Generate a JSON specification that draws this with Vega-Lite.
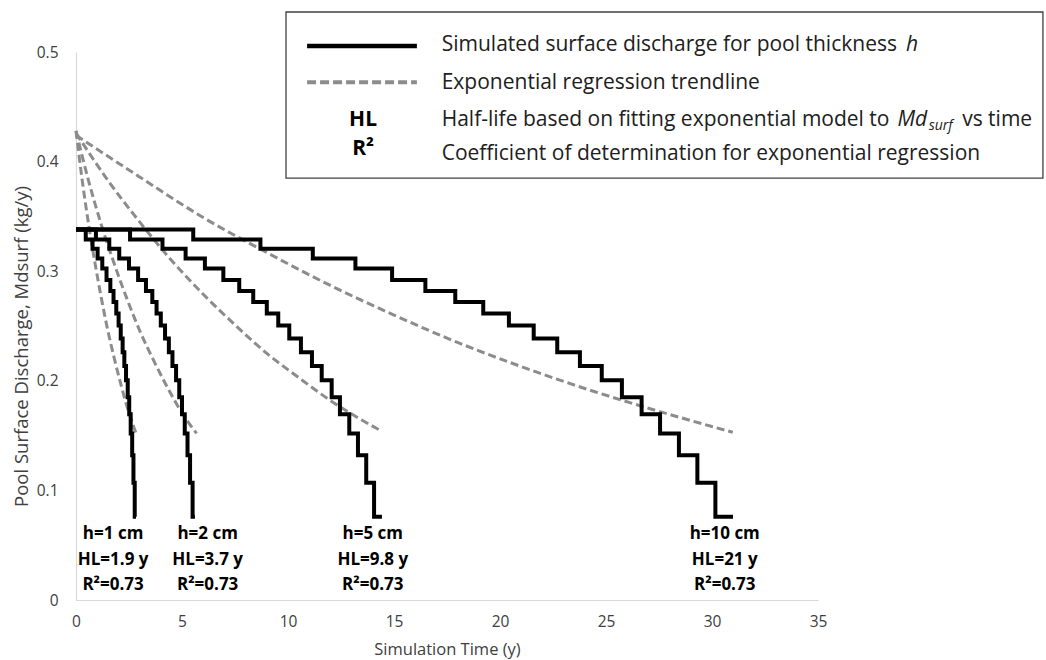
{
  "$schema": "https://vega.github.io/schema/vega-lite/v6.json",
  "width": 742,
  "height": 548,
  "autosize": {"type": "none"},
  "padding": {"left": 76, "top": 52, "right": 228, "bottom": 60},
  "background": "white",
  "config": {
    "font": "Open Sans",
    "view": {"stroke": null},
    "axis": {"grid": false, "ticks": false, "labelFlush": false, "labelOverlap": false, "domainColor": "#d9d9d9", "domainWidth": 1.2, "labelFont": "Open Sans", "labelFontSize": 15.5, "labelColor": "#404040", "titleFont": "Open Sans", "titleFontWeight": "normal", "titleColor": "#404040", "titleFontSize": 16.5}
  },
  "datasets": {
    "steps": [
      {"s": "h1", "t": 0, "v": 0.338}, {"s": "h1", "t": 0.46, "v": 0.329}, {"s": "h1", "t": 0.78, "v": 0.3205}, {"s": "h1", "t": 1.02, "v": 0.3115}, {"s": "h1", "t": 1.24, "v": 0.3025}, {"s": "h1", "t": 1.44, "v": 0.292}, {"s": "h1", "t": 1.62, "v": 0.282}, {"s": "h1", "t": 1.77, "v": 0.272}, {"s": "h1", "t": 1.9, "v": 0.2615}, {"s": "h1", "t": 2.01, "v": 0.2505}, {"s": "h1", "t": 2.11, "v": 0.2385}, {"s": "h1", "t": 2.2, "v": 0.226}, {"s": "h1", "t": 2.28, "v": 0.2135}, {"s": "h1", "t": 2.36, "v": 0.2005}, {"s": "h1", "t": 2.44, "v": 0.185}, {"s": "h1", "t": 2.51, "v": 0.1695}, {"s": "h1", "t": 2.58, "v": 0.152}, {"s": "h1", "t": 2.65, "v": 0.132}, {"s": "h1", "t": 2.71, "v": 0.107}, {"s": "h1", "t": 2.77, "v": 0.076}, {"s": "h1", "t": 2.83, "v": 0.076},
      {"s": "h2", "t": 0, "v": 0.338}, {"s": "h2", "t": 0.94, "v": 0.329}, {"s": "h2", "t": 1.57, "v": 0.3205}, {"s": "h2", "t": 2.04, "v": 0.3115}, {"s": "h2", "t": 2.5, "v": 0.3025}, {"s": "h2", "t": 2.93, "v": 0.292}, {"s": "h2", "t": 3.3, "v": 0.282}, {"s": "h2", "t": 3.6, "v": 0.272}, {"s": "h2", "t": 3.8, "v": 0.2615}, {"s": "h2", "t": 4.0, "v": 0.2505}, {"s": "h2", "t": 4.2, "v": 0.2385}, {"s": "h2", "t": 4.38, "v": 0.226}, {"s": "h2", "t": 4.55, "v": 0.2135}, {"s": "h2", "t": 4.72, "v": 0.2005}, {"s": "h2", "t": 4.87, "v": 0.185}, {"s": "h2", "t": 5.0, "v": 0.1695}, {"s": "h2", "t": 5.13, "v": 0.152}, {"s": "h2", "t": 5.26, "v": 0.132}, {"s": "h2", "t": 5.38, "v": 0.107}, {"s": "h2", "t": 5.5, "v": 0.076}, {"s": "h2", "t": 5.61, "v": 0.076},
      {"s": "h5", "t": 0, "v": 0.338}, {"s": "h5", "t": 2.55, "v": 0.329}, {"s": "h5", "t": 4.08, "v": 0.3205}, {"s": "h5", "t": 5.17, "v": 0.3115}, {"s": "h5", "t": 6.08, "v": 0.3025}, {"s": "h5", "t": 6.95, "v": 0.292}, {"s": "h5", "t": 7.7, "v": 0.282}, {"s": "h5", "t": 8.36, "v": 0.272}, {"s": "h5", "t": 9.0, "v": 0.2615}, {"s": "h5", "t": 9.54, "v": 0.2505}, {"s": "h5", "t": 10.06, "v": 0.2385}, {"s": "h5", "t": 10.61, "v": 0.226}, {"s": "h5", "t": 11.13, "v": 0.2135}, {"s": "h5", "t": 11.59, "v": 0.2005}, {"s": "h5", "t": 12.06, "v": 0.185}, {"s": "h5", "t": 12.45, "v": 0.1695}, {"s": "h5", "t": 12.89, "v": 0.152}, {"s": "h5", "t": 13.3, "v": 0.132}, {"s": "h5", "t": 13.69, "v": 0.107}, {"s": "h5", "t": 14.06, "v": 0.076}, {"s": "h5", "t": 14.43, "v": 0.076},
      {"s": "h10", "t": 0, "v": 0.338}, {"s": "h10", "t": 5.53, "v": 0.329}, {"s": "h10", "t": 8.7, "v": 0.3205}, {"s": "h10", "t": 11.17, "v": 0.3115}, {"s": "h10", "t": 13.18, "v": 0.3025}, {"s": "h10", "t": 14.91, "v": 0.292}, {"s": "h10", "t": 16.48, "v": 0.282}, {"s": "h10", "t": 17.89, "v": 0.272}, {"s": "h10", "t": 19.21, "v": 0.2615}, {"s": "h10", "t": 20.42, "v": 0.2505}, {"s": "h10", "t": 21.59, "v": 0.2385}, {"s": "h10", "t": 22.7, "v": 0.226}, {"s": "h10", "t": 23.77, "v": 0.2135}, {"s": "h10", "t": 24.8, "v": 0.2005}, {"s": "h10", "t": 25.75, "v": 0.185}, {"s": "h10", "t": 26.68, "v": 0.1695}, {"s": "h10", "t": 27.55, "v": 0.152}, {"s": "h10", "t": 28.44, "v": 0.132}, {"s": "h10", "t": 29.31, "v": 0.107}, {"s": "h10", "t": 30.16, "v": 0.076}, {"s": "h10", "t": 30.99, "v": 0.076}
    ],
    "trends": [
      {"s": "h1", "t": 0, "v": 0.428}, {"s": "h1", "t": 0.3, "v": 0.382}, {"s": "h1", "t": 0.6, "v": 0.342}, {"s": "h1", "t": 0.9, "v": 0.307}, {"s": "h1", "t": 1.2, "v": 0.275}, {"s": "h1", "t": 1.5, "v": 0.246}, {"s": "h1", "t": 1.8, "v": 0.221}, {"s": "h1", "t": 2.1, "v": 0.198}, {"s": "h1", "t": 2.4, "v": 0.177}, {"s": "h1", "t": 2.65, "v": 0.162}, {"s": "h1", "t": 2.83, "v": 0.152},
      {"s": "h2", "t": 0, "v": 0.428}, {"s": "h2", "t": 0.6, "v": 0.382}, {"s": "h2", "t": 1.2, "v": 0.342}, {"s": "h2", "t": 1.8, "v": 0.307}, {"s": "h2", "t": 2.4, "v": 0.275}, {"s": "h2", "t": 3.0, "v": 0.246}, {"s": "h2", "t": 3.6, "v": 0.221}, {"s": "h2", "t": 4.2, "v": 0.198}, {"s": "h2", "t": 4.8, "v": 0.177}, {"s": "h2", "t": 5.3, "v": 0.162}, {"s": "h2", "t": 5.69, "v": 0.152},
      {"s": "h5", "t": 0, "v": 0.426}, {"s": "h5", "t": 1.5, "v": 0.383}, {"s": "h5", "t": 3, "v": 0.345}, {"s": "h5", "t": 4.5, "v": 0.31}, {"s": "h5", "t": 6, "v": 0.279}, {"s": "h5", "t": 7.5, "v": 0.251}, {"s": "h5", "t": 9, "v": 0.225}, {"s": "h5", "t": 10.5, "v": 0.203}, {"s": "h5", "t": 12, "v": 0.182}, {"s": "h5", "t": 13.5, "v": 0.164}, {"s": "h5", "t": 14.42, "v": 0.154},
      {"s": "h10", "t": 0, "v": 0.424}, {"s": "h10", "t": 3, "v": 0.386}, {"s": "h10", "t": 6, "v": 0.349}, {"s": "h10", "t": 9, "v": 0.317}, {"s": "h10", "t": 12, "v": 0.287}, {"s": "h10", "t": 15, "v": 0.26}, {"s": "h10", "t": 18, "v": 0.235}, {"s": "h10", "t": 21, "v": 0.213}, {"s": "h10", "t": 24, "v": 0.193}, {"s": "h10", "t": 27, "v": 0.175}, {"s": "h10", "t": 30.98, "v": 0.153}
    ],
    "notes": [
      {"t": 1.75, "v": 0.0602, "label": "h=1 cm"}, {"t": 1.75, "v": 0.0365, "label": "HL=1.9 y"}, {"t": 1.75, "v": 0.0141, "label": "R²=0.73"},
      {"t": 6.21, "v": 0.0602, "label": "h=2 cm"}, {"t": 6.21, "v": 0.0365, "label": "HL=3.7 y"}, {"t": 6.21, "v": 0.0141, "label": "R²=0.73"},
      {"t": 14.0, "v": 0.0602, "label": "h=5 cm"}, {"t": 14.0, "v": 0.0365, "label": "HL=9.8 y"}, {"t": 14.0, "v": 0.0141, "label": "R²=0.73"},
      {"t": 30.6, "v": 0.0602, "label": "h=10 cm"}, {"t": 30.6, "v": 0.0365, "label": "HL=21 y"}, {"t": 30.6, "v": 0.0141, "label": "R²=0.73"}
    ],
    "box": [{"t": 9.906, "t2": 45.61, "v": 0.385, "v2": 0.5365}],
    "keySolid": [{"s": "a", "t": 10.9, "v": 0.5055}, {"s": "a", "t": 16.08, "v": 0.5055}],
    "keyDash": [{"s": "b", "t": 10.9, "v": 0.4724}, {"s": "b", "t": 16.08, "v": 0.4724}],
    "keyText": [{"t": 13.54, "v": 0.438, "label": "HL"}, {"t": 13.54, "v": 0.4115, "label": "R²"}],
    "descText": [
      {"t": 17.25, "v": 0.506, "label": "Simulated surface discharge for pool thickness"},
      {"t": 17.25, "v": 0.4714, "label": "Exponential regression trendline"},
      {"t": 17.25, "v": 0.438, "label": "Half-life based on fitting exponential model to"},
      {"t": 17.25, "v": 0.407, "label": "Coefficient of determination for exponential regression"},
      {"t": 41.8, "v": 0.438, "label": "vs time"}
    ],
    "italicText": [
      {"t": 39.15, "v": 0.506, "label": "h"},
      {"t": 38.75, "v": 0.438, "label": "Md"}
    ],
    "subText": [
      {"t": 40.22, "v": 0.4325, "label": "surf"}
    ]
  },
  "encoding": {
    "x": {"field": "t", "type": "quantitative", "scale": {"domain": [0, 35], "nice": false, "zero": false},
      "axis": {"values": [0, 5, 10, 15, 20, 25, 30, 35], "title": "Simulation Time (y)", "labelPadding": 14, "titleX": 371, "titleY": 49, "titleBaseline": "middle", "titleAlign": "center"}},
    "y": {"field": "v", "type": "quantitative", "scale": {"domain": [0, 0.5], "nice": false, "zero": false},
      "axis": {"values": [0, 0.1, 0.2, 0.3, 0.4, 0.5], "format": "~g", "title": "Pool Surface Discharge, Mdsurf (kg/y)", "titleFontSize": 18.5, "labelPadding": 18, "titleAngle": 270, "titleX": -55, "titleY": 294, "titleAlign": "center", "titleBaseline": "middle"}}
  },
  "layer": [
    {"data": {"name": "box"}, "mark": {"type": "rect", "fill": "white", "stroke": "#404040", "strokeWidth": 1.3},
      "encoding": {"x2": {"field": "t2"}, "y2": {"field": "v2"}}},
    {"data": {"name": "trends"}, "mark": {"type": "line", "interpolate": "monotone", "color": "#8c8c8c", "strokeWidth": 3, "strokeDash": [8, 4]},
      "encoding": {"detail": {"field": "s"}}},
    {"data": {"name": "steps"}, "mark": {"type": "line", "interpolate": "step-after", "color": "black", "strokeWidth": 4},
      "encoding": {"detail": {"field": "s"}}},
    {"data": {"name": "keySolid"}, "mark": {"type": "line", "color": "black", "strokeWidth": 4.5}, "encoding": {}},
    {"data": {"name": "keyDash"}, "mark": {"type": "line", "color": "#8c8c8c", "strokeWidth": 4, "strokeDash": [9, 4]}, "encoding": {}},
    {"data": {"name": "notes"}, "mark": {"type": "text", "fontWeight": "bold", "fontSize": 17, "align": "center", "baseline": "middle", "color": "black"},
      "encoding": {"text": {"field": "label"}}},
    {"data": {"name": "keyText"}, "mark": {"type": "text", "fontWeight": "bold", "fontSize": 21, "align": "center", "baseline": "middle", "color": "black"},
      "encoding": {"text": {"field": "label"}}},
    {"data": {"name": "descText"}, "mark": {"type": "text", "fontSize": 21, "align": "left", "baseline": "middle", "color": "#202020"},
      "encoding": {"text": {"field": "label"}}},
    {"data": {"name": "italicText"}, "mark": {"type": "text", "fontSize": 21, "fontStyle": "italic", "align": "left", "baseline": "middle", "color": "#202020"},
      "encoding": {"text": {"field": "label"}}},
    {"data": {"name": "subText"}, "mark": {"type": "text", "fontSize": 14, "fontStyle": "italic", "align": "left", "baseline": "middle", "color": "#202020"},
      "encoding": {"text": {"field": "label"}}}
  ]
}
